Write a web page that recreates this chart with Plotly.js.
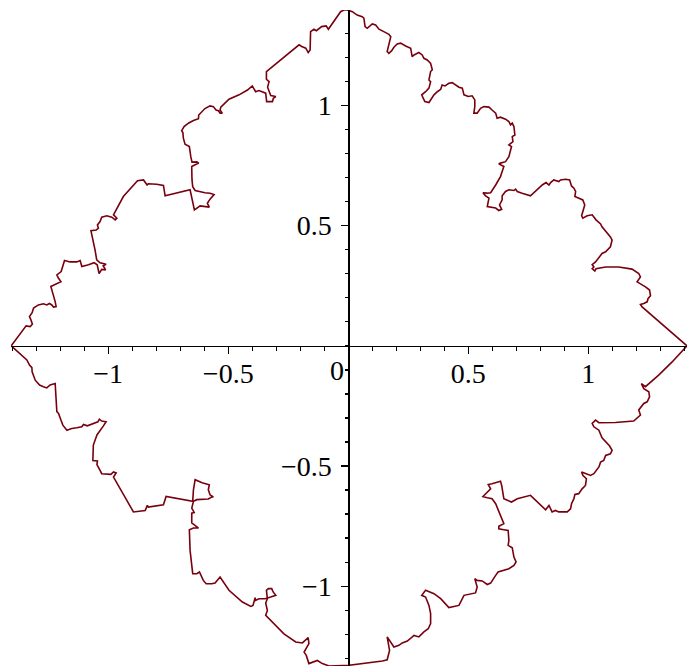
<!DOCTYPE html>
<html>
<head>
<meta charset="utf-8">
<script src="https://cdn.plot.ly/plotly-3.0.1.min.js"></script>
<style>
  html, body { margin: 0; padding: 0; background: #fff; }
  #plot { width: 689px; height: 669px; }
</style>
</head>
<body>
<div id="plot"></div>
<script>
// Closed fractal curve, traced counter-clockwise in four arcs: [x, y]
const arcLeftToTop = [
  [-1.404,0.000],[-1.342,0.083],[-1.325,0.080],[-1.316,0.090],[-1.322,0.108],[-1.328,0.122],
  [-1.317,0.138],[-1.311,0.157],[-1.291,0.170],[-1.270,0.175],[-1.256,0.170],[-1.245,0.176],
  [-1.235,0.170],[-1.228,0.161],[-1.217,0.163],[-1.221,0.184],[-1.239,0.247],[-1.214,0.261],
  [-1.197,0.267],[-1.207,0.281],[-1.214,0.295],[-1.196,0.309],[-1.182,0.355],[-1.159,0.349],
  [-1.131,0.349],[-1.117,0.355],[-1.110,0.330],[-1.082,0.337],[-1.059,0.346],[-1.046,0.337],
  [-1.038,0.301],[-1.027,0.318],[-1.011,0.316],[-1.021,0.333],[-1.009,0.339],[-1.034,0.345],
  [-1.048,0.358],[-1.055,0.399],[-1.062,0.427],[-1.072,0.479],[-1.050,0.482],[-1.041,0.489],
  [-1.045,0.503],[-1.034,0.517],[-1.027,0.535],[-1.006,0.541],[-0.985,0.535],[-0.971,0.524],
  [-0.964,0.531],[-0.978,0.545],[-0.937,0.621],[-0.909,0.652],[-0.878,0.687],[-0.853,0.690],
  [-0.843,0.679],[-0.838,0.669],[-0.833,0.674],[-0.798,0.672],[-0.770,0.667],[-0.763,0.624],
  [-0.659,0.649],[-0.641,0.565],[-0.617,0.582],[-0.589,0.579],[-0.579,0.577],[-0.587,0.593],
  [-0.576,0.610],[-0.559,0.629],[-0.576,0.635],[-0.597,0.637],[-0.617,0.642],[-0.638,0.646],
  [-0.648,0.662],[-0.651,0.690],[-0.652,0.732],[-0.652,0.746],[-0.638,0.753],[-0.623,0.760],
  [-0.631,0.765],[-0.651,0.764],[-0.656,0.787],[-0.662,0.829],[-0.680,0.839],[-0.687,0.864],
  [-0.689,0.887],[-0.694,0.895],[-0.684,0.912],[-0.666,0.926],[-0.645,0.937],[-0.624,0.945],
  [-0.623,0.960],[-0.610,0.974],[-0.597,0.987],[-0.576,0.998],[-0.562,0.995],[-0.551,0.981],
  [-0.541,0.978],[-0.534,0.968],[-0.525,0.968],[-0.534,0.981],[-0.531,0.993],[-0.497,1.026],
  [-0.455,1.044],[-0.420,1.064],[-0.400,1.081],[-0.386,1.057],[-0.372,1.062],[-0.344,1.051],
  [-0.340,1.016],[-0.316,1.016],[-0.312,1.030],[-0.302,1.037],[-0.323,1.041],[-0.336,1.076],
  [-0.330,1.099],[-0.341,1.109],[-0.341,1.141],[-0.205,1.252],[-0.194,1.245],[-0.177,1.238],
  [-0.167,1.220],[-0.159,1.231],[-0.157,1.307],[-0.143,1.317],[-0.133,1.311],[-0.111,1.328],
  [-0.092,1.331],[-0.083,1.317],[-0.073,1.331],[-0.055,1.353],[-0.046,1.369],[-0.039,1.376],
  [-0.032,1.390],[-0.018,1.397],[-0.004,1.397]
];

const arcTopToRight = [
  [0.017,1.390],[0.037,1.376],[0.058,1.369],[0.065,1.363],[0.070,1.328],[0.079,1.321],
  [0.100,1.339],[0.114,1.335],[0.128,1.317],[0.142,1.311],[0.156,1.303],[0.169,1.296],
  [0.177,1.286],[0.162,1.224],[0.169,1.217],[0.181,1.228],[0.190,1.242],[0.204,1.256],
  [0.218,1.259],[0.239,1.247],[0.260,1.238],[0.266,1.203],[0.274,1.210],[0.294,1.220],
  [0.308,1.210],[0.315,1.196],[0.329,1.189],[0.343,1.175],[0.350,1.148],[0.343,1.141],
  [0.336,1.106],[0.343,1.099],[0.336,1.072],[0.322,1.057],[0.306,1.044],[0.312,1.030],
  [0.319,1.016],[0.336,1.012],[0.343,1.023],[0.357,1.044],[0.371,1.057],[0.385,1.067],
  [0.391,1.085],[0.403,1.081],[0.419,1.092],[0.433,1.095],[0.461,1.076],[0.475,1.072],
  [0.482,1.044],[0.500,1.037],[0.516,1.040],[0.527,1.023],[0.527,0.995],[0.523,0.968],
  [0.537,0.968],[0.551,0.988],[0.565,0.995],[0.586,0.993],[0.599,0.981],[0.614,0.968],
  [0.620,0.947],[0.634,0.951],[0.655,0.943],[0.669,0.933],[0.676,0.919],[0.683,0.926],
  [0.690,0.912],[0.694,0.877],[0.683,0.870],[0.686,0.849],[0.669,0.836],[0.680,0.829],
  [0.669,0.787],[0.655,0.766],[0.634,0.760],[0.627,0.757],[0.648,0.746],[0.634,0.704],
  [0.614,0.669],[0.593,0.637],[0.579,0.635],[0.561,0.637],[0.572,0.624],[0.586,0.614],
  [0.579,0.579],[0.593,0.577],[0.614,0.573],[0.627,0.563],[0.639,0.568],[0.630,0.586],
  [0.641,0.607],[0.641,0.624],[0.655,0.642],[0.669,0.649],[0.690,0.646],[0.697,0.652],
  [0.704,0.642],[0.724,0.635],[0.759,0.624],[0.808,0.669],[0.824,0.679],[0.836,0.669],
  [0.843,0.679],[0.856,0.690],[0.870,0.687],[0.877,0.683],[0.884,0.690],[0.905,0.693],
  [0.922,0.690],[0.930,0.665],[0.940,0.656],[0.947,0.642],[0.944,0.621],[0.960,0.614],
  [0.977,0.607],[0.985,0.586],[0.981,0.568],[0.972,0.541],[0.977,0.531],[0.995,0.541],
  [1.016,0.545],[1.027,0.531],[1.032,0.524],[1.051,0.507],[1.057,0.495],[1.092,0.453],
  [1.099,0.440],[1.092,0.412],[1.072,0.391],[1.057,0.384],[1.030,0.349],[1.016,0.338],
  [1.023,0.328],[1.016,0.321],[1.027,0.311],[1.032,0.321],[1.072,0.328],[1.127,0.328],
  [1.182,0.319],[1.210,0.301],[1.217,0.287],[1.203,0.266],[1.224,0.255],[1.238,0.245],
  [1.255,0.232],[1.259,0.208],[1.249,0.197],[1.245,0.183],[1.231,0.176],[1.217,0.172],
  [1.224,0.162],[1.411,0.000]
];

const arcRightToBottom = [
  [1.349,-0.067],[1.293,-0.122],[1.238,-0.170],[1.221,-0.157],[1.231,-0.178],[1.252,-0.191],
  [1.255,-0.212],[1.245,-0.233],[1.231,-0.240],[1.210,-0.267],[1.217,-0.288],[1.189,-0.313],
  [1.113,-0.319],[1.044,-0.320],[1.030,-0.309],[1.016,-0.323],[1.023,-0.337],[1.044,-0.351],
  [1.057,-0.383],[1.072,-0.399],[1.088,-0.416],[1.099,-0.435],[1.092,-0.449],[1.072,-0.456],
  [1.064,-0.477],[1.051,-0.484],[1.044,-0.504],[1.023,-0.532],[1.009,-0.539],[0.972,-0.525],
  [0.977,-0.539],[0.992,-0.553],[0.988,-0.581],[0.974,-0.595],[0.960,-0.615],[0.944,-0.618],
  [0.940,-0.636],[0.930,-0.657],[0.926,-0.678],[0.912,-0.691],[0.877,-0.691],[0.863,-0.685],
  [0.849,-0.691],[0.836,-0.664],[0.822,-0.682],[0.759,-0.622],[0.704,-0.636],[0.680,-0.650],
  [0.648,-0.636],[0.639,-0.581],[0.634,-0.563],[0.599,-0.574],[0.583,-0.577],[0.593,-0.595],
  [0.561,-0.627],[0.579,-0.632],[0.599,-0.636],[0.614,-0.657],[0.634,-0.706],[0.648,-0.740],
  [0.627,-0.751],[0.627,-0.761],[0.648,-0.765],[0.666,-0.768],[0.669,-0.810],[0.666,-0.830],
  [0.683,-0.840],[0.690,-0.879],[0.699,-0.899],[0.690,-0.914],[0.669,-0.927],[0.655,-0.931],
  [0.624,-0.941],[0.614,-0.955],[0.593,-0.987],[0.579,-0.993],[0.558,-0.978],[0.537,-0.976],
  [0.527,-0.969],[0.537,-1.003],[0.530,-1.028],[0.482,-1.038],[0.461,-1.080],[0.419,-1.089],
  [0.405,-1.073],[0.385,-1.052],[0.357,-1.031],[0.322,-1.017],[0.306,-1.038],[0.322,-1.045],
  [0.336,-1.080],[0.343,-1.114],[0.343,-1.156],[0.333,-1.177],[0.315,-1.190],[0.294,-1.211],
  [0.274,-1.205],[0.260,-1.218],[0.246,-1.228],[0.225,-1.236],[0.211,-1.246],[0.190,-1.253],
  [0.169,-1.225],[0.162,-1.211],[0.172,-1.267],[0.162,-1.306],[0.142,-1.311],[0.086,-1.319],
  [0.003,-1.329]
];

const arcBottomToLeft = [
  [-0.080,-1.332],[-0.108,-1.322],[-0.129,-1.309],[-0.164,-1.322],[-0.175,-1.288],[-0.184,-1.274],
  [-0.164,-1.239],[-0.167,-1.214],[-0.191,-1.236],[-0.219,-1.232],[-0.268,-1.198],[-0.344,-1.121],
  [-0.337,-1.101],[-0.344,-1.070],[-0.337,-1.052],[-0.341,-1.017],[-0.333,-1.010],[-0.319,-1.010],
  [-0.313,-1.024],[-0.302,-1.038],[-0.323,-1.045],[-0.347,-1.052],[-0.372,-1.052],[-0.386,-1.059],
  [-0.388,-1.048],[-0.397,-1.080],[-0.406,-1.084],[-0.441,-1.066],[-0.497,-1.017],[-0.527,-0.976],
  [-0.534,-0.962],[-0.555,-0.987],[-0.569,-0.990],[-0.592,-0.990],[-0.604,-0.976],[-0.620,-0.941],
  [-0.631,-0.948],[-0.648,-0.948],[-0.659,-0.851],[-0.662,-0.765],[-0.645,-0.758],[-0.624,-0.758],
  [-0.652,-0.737],[-0.652,-0.696],[-0.642,-0.693],[-0.652,-0.675],[-0.648,-0.661],[-0.645,-0.647],
  [-0.631,-0.640],[-0.604,-0.637],[-0.583,-0.637],[-0.569,-0.629],[-0.562,-0.629],[-0.576,-0.620],
  [-0.583,-0.599],[-0.579,-0.578],[-0.609,-0.570],[-0.638,-0.557],[-0.645,-0.599],[-0.648,-0.647],
  [-0.759,-0.627],[-0.770,-0.661],[-0.805,-0.668],[-0.833,-0.671],[-0.837,-0.664],[-0.846,-0.685],
  [-0.895,-0.691],[-0.978,-0.546],[-0.967,-0.529],[-0.978,-0.525],[-0.989,-0.535],[-1.027,-0.532],
  [-1.034,-0.518],[-1.047,-0.494],[-1.045,-0.479],[-1.064,-0.477],[-1.062,-0.413],[-1.047,-0.371],
  [-1.020,-0.333],[-1.009,-0.316],[-1.027,-0.313],[-1.037,-0.305],[-1.043,-0.316],[-1.068,-0.327],
  [-1.087,-0.333],[-1.103,-0.327],[-1.110,-0.337],[-1.131,-0.341],[-1.152,-0.344],[-1.172,-0.351],
  [-1.189,-0.330],[-1.197,-0.309],[-1.207,-0.281],[-1.214,-0.274],[-1.221,-0.157],[-1.242,-0.163],
  [-1.256,-0.175],[-1.270,-0.170],[-1.286,-0.163],[-1.304,-0.143],[-1.311,-0.125],[-1.317,-0.108],
  [-1.318,-0.091],[-1.328,-0.080],[-1.339,-0.059],[-1.367,-0.032],[-1.388,-0.014],[-1.404,0.000]
];

// Axis ticks and labels
const xTickVals = [-1, -0.5, 0.5, 1];
const xTickText = ['\u22121', '\u22120.5', '0.5', '1'];
const yTickVals = [-1, -0.5, 0.5, 1];
const yTickText = ['\u22121', '\u22120.5', '0.5', '1'];
const originLabel = '0';

// Visible window (data units)
const xView = [-1.405, 1.411];
const yView = [-1.332, 1.397];

const pts = [].concat(arcLeftToTop, arcTopToRight, arcRightToBottom, arcBottomToLeft);
const curveX = pts.map(p => p[0]);
const curveY = pts.map(p => p[1]);

const FONT = '"Liberation Serif", "Times New Roman", serif';
const CURVE_COLOR = '#78000E';
const LABEL_SIZE = 28;

const axisCommon = {
  anchor: 'free',
  showline: true, linecolor: '#000', linewidth: 1.6,
  showgrid: false, zeroline: false,
  ticks: 'outside', ticklen: 7, tickwidth: 1.3, tickcolor: '#000',
  tickmode: 'array',
  tickfont: { family: FONT, size: LABEL_SIZE, color: '#000' },
  minor: { ticks: 'outside', tickmode: 'linear', tick0: 0, dtick: 0.1,
           ticklen: 3.5, tickwidth: 1.3, tickcolor: '#000', showgrid: false },
  fixedrange: true
};

const layout = {
  width: 689, height: 669,
  margin: { l: 11, r: 2, t: 10, b: 3, pad: 0 },
  paper_bgcolor: '#fff', plot_bgcolor: '#fff',
  showlegend: false,
  xaxis: Object.assign({}, axisCommon, {
    range: xView, side: 'bottom',
    position: (0 - yView[0]) / (yView[1] - yView[0]),
    tickvals: xTickVals, ticktext: xTickText,
    ticklabelstandoff: -5
  }),
  yaxis: Object.assign({}, axisCommon, {
    range: yView, side: 'left',
    position: (0 - xView[0]) / (xView[1] - xView[0]),
    tickvals: yTickVals, ticktext: yTickText,
    ticklabelstandoff: 4
  }),
  annotations: [{
    x: 0, y: 0, xref: 'x', yref: 'y', text: originLabel, showarrow: false,
    xanchor: 'right', yanchor: 'top', xshift: -2, yshift: -7,
    font: { family: FONT, size: LABEL_SIZE, color: '#000' }
  }]
};

const trace = {
  x: curveX, y: curveY, type: 'scatter', mode: 'lines',
  line: { color: CURVE_COLOR, width: 1.6 },
  hoverinfo: 'skip'
};

Plotly.newPlot('plot', [trace], layout, { displayModeBar: false, staticPlot: true });
</script>
</body>
</html>
